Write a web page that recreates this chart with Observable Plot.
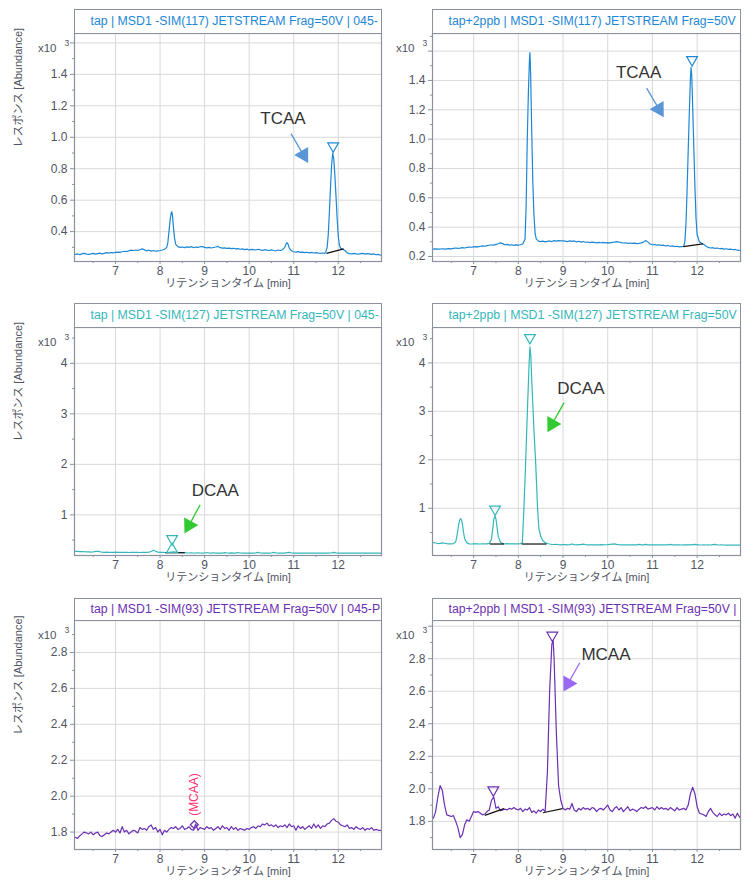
<!DOCTYPE html>
<html><head><meta charset="utf-8">
<script src="https://cdn.jsdelivr.net/npm/d3@7"></script>
<script src="https://cdn.jsdelivr.net/npm/@observablehq/plot@0.6"></script>
<style>
body{margin:0;background:#fff;width:747px;height:882px;position:relative;overflow:hidden;font-family:"Liberation Sans",Arial,"Noto Sans CJK JP",sans-serif;}
.title{position:absolute;box-sizing:border-box;border:1px solid #8c91a0;border-bottom:none;font-size:12.3px;white-space:nowrap;overflow:hidden;padding-left:16px;background:#fff;}
</style></head><body>
<div id="root"></div>
<script>
// ---------- data ----------
const xDomain = [6.08, 12.97];
const xTicks = [7, 8, 9, 10, 11, 12];
const xMinor = [6.5, 7.5, 8.5, 9.5, 10.5, 11.5, 12.5];
const xLabel = "リテンションタイム [min]";
const yLabel = "レスポンス [Abundance]";
const titles = [
  "tap | MSD1 -SIM(117) JETSTREAM Frag=50V | 045-",
  "tap+2ppb | MSD1 -SIM(117) JETSTREAM Frag=50V",
  "tap | MSD1 -SIM(127) JETSTREAM Frag=50V | 045-",
  "tap+2ppb | MSD1 -SIM(127) JETSTREAM Frag=50V",
  "tap | MSD1 -SIM(93) JETSTREAM Frag=50V | 045-P",
  "tap+2ppb | MSD1 -SIM(93) JETSTREAM Frag=50V |"
];

const tap117 = [[6.10,0.255],[6.15,0.258],[6.20,0.253],[6.25,0.26],[6.30,0.262],[6.35,0.257],[6.40,0.255],[6.45,0.258],[6.50,0.262],[6.55,0.257],[6.60,0.26],[6.65,0.263],[6.70,0.258],[6.75,0.262],[6.80,0.266],[6.85,0.263],[6.90,0.267],[6.95,0.265],[7.00,0.268],[7.05,0.27],[7.10,0.268],[7.15,0.272],[7.20,0.275],[7.25,0.273],[7.30,0.278],[7.35,0.282],[7.40,0.28],[7.45,0.283],[7.50,0.281],[7.55,0.285],[7.60,0.29],[7.65,0.284],[7.70,0.278],[7.75,0.282],[7.80,0.276],[7.85,0.28],[7.90,0.275],[7.95,0.278],[8.00,0.28],[8.05,0.283],[8.10,0.288],[8.15,0.30],[8.175,0.33],[8.20,0.40],[8.225,0.47],[8.25,0.52],[8.265,0.525],[8.28,0.50],[8.30,0.43],[8.325,0.36],[8.35,0.32],[8.40,0.305],[8.45,0.30],[8.50,0.302],[8.55,0.298],[8.60,0.303],[8.65,0.30],[8.70,0.305],[8.75,0.298],[8.80,0.302],[8.85,0.30],[8.90,0.304],[8.95,0.305],[9.00,0.30],[9.05,0.297],[9.10,0.30],[9.15,0.296],[9.20,0.299],[9.25,0.302],[9.30,0.306],[9.35,0.298],[9.40,0.295],[9.45,0.297],[9.50,0.293],[9.55,0.295],[9.60,0.292],[9.65,0.294],[9.70,0.29],[9.75,0.292],[9.80,0.288],[9.85,0.29],[9.90,0.286],[9.95,0.289],[10.00,0.283],[10.05,0.287],[10.10,0.285],[10.15,0.283],[10.20,0.288],[10.25,0.284],[10.30,0.281],[10.35,0.285],[10.40,0.282],[10.45,0.28],[10.50,0.284],[10.55,0.28],[10.60,0.278],[10.65,0.283],[10.70,0.28],[10.75,0.285],[10.80,0.30],[10.825,0.32],[10.85,0.33],[10.875,0.318],[10.90,0.295],[10.95,0.278],[11.00,0.272],[11.05,0.27],[11.10,0.273],[11.15,0.268],[11.20,0.27],[11.25,0.266],[11.30,0.269],[11.35,0.265],[11.40,0.268],[11.45,0.264],[11.50,0.266],[11.55,0.263],[11.60,0.262],[11.65,0.264],[11.70,0.262],[11.725,0.275],[11.75,0.30],[11.775,0.38],[11.80,0.52],[11.825,0.68],[11.85,0.82],[11.875,0.90],[11.90,0.86],[11.925,0.75],[11.95,0.62],[11.975,0.48],[12.00,0.37],[12.025,0.315],[12.05,0.295],[12.10,0.288],[12.15,0.28],[12.20,0.265],[12.25,0.26],[12.30,0.258],[12.35,0.262],[12.40,0.259],[12.45,0.256],[12.50,0.26],[12.55,0.262],[12.60,0.257],[12.65,0.26],[12.70,0.258],[12.75,0.255],[12.80,0.258],[12.85,0.253],[12.90,0.255],[12.95,0.25]];

const ppb117 = [[6.10,0.25],[6.15,0.252],[6.20,0.25],[6.25,0.251],[6.30,0.253],[6.35,0.25],[6.40,0.252],[6.45,0.254],[6.50,0.252],[6.55,0.255],[6.60,0.258],[6.65,0.255],[6.70,0.257],[6.75,0.26],[6.80,0.258],[6.85,0.262],[6.90,0.265],[6.95,0.263],[7.00,0.266],[7.05,0.268],[7.10,0.266],[7.15,0.27],[7.20,0.272],[7.25,0.27],[7.30,0.274],[7.35,0.277],[7.40,0.28],[7.45,0.278],[7.50,0.283],[7.55,0.287],[7.60,0.293],[7.65,0.288],[7.70,0.28],[7.75,0.283],[7.80,0.278],[7.85,0.28],[7.90,0.276],[7.95,0.279],[8.00,0.277],[8.05,0.28],[8.10,0.285],[8.15,0.32],[8.175,0.55],[8.20,1.00],[8.225,1.32],[8.25,1.55],[8.26,1.59],[8.275,1.45],[8.30,1.05],[8.325,0.70],[8.35,0.48],[8.375,0.36],[8.40,0.32],[8.45,0.305],[8.50,0.302],[8.55,0.305],[8.60,0.30],[8.65,0.303],[8.70,0.306],[8.75,0.302],[8.80,0.308],[8.85,0.305],[8.90,0.308],[8.95,0.306],[9.00,0.307],[9.05,0.305],[9.10,0.302],[9.15,0.307],[9.20,0.303],[9.25,0.306],[9.30,0.30],[9.35,0.304],[9.40,0.298],[9.45,0.302],[9.50,0.297],[9.55,0.299],[9.60,0.295],[9.65,0.298],[9.70,0.296],[9.75,0.293],[9.80,0.296],[9.85,0.294],[9.90,0.296],[9.95,0.293],[10.00,0.295],[10.05,0.293],[10.10,0.296],[10.15,0.298],[10.20,0.302],[10.25,0.299],[10.30,0.295],[10.35,0.292],[10.40,0.294],[10.45,0.29],[10.50,0.292],[10.55,0.289],[10.60,0.291],[10.65,0.288],[10.70,0.29],[10.75,0.293],[10.80,0.298],[10.85,0.31],[10.90,0.298],[10.95,0.285],[11.00,0.28],[11.05,0.282],[11.10,0.278],[11.15,0.28],[11.20,0.276],[11.25,0.277],[11.30,0.273],[11.35,0.275],[11.40,0.27],[11.45,0.272],[11.50,0.268],[11.55,0.27],[11.60,0.266],[11.65,0.268],[11.70,0.27],[11.725,0.30],[11.75,0.42],[11.775,0.65],[11.80,0.92],[11.825,1.18],[11.85,1.42],[11.865,1.49],[11.88,1.43],[11.90,1.22],[11.925,0.95],[11.95,0.68],[11.975,0.46],[12.00,0.35],[12.05,0.30],[12.10,0.29],[12.15,0.283],[12.20,0.27],[12.25,0.262],[12.30,0.258],[12.35,0.26],[12.40,0.256],[12.45,0.258],[12.50,0.253],[12.55,0.255],[12.60,0.25],[12.65,0.253],[12.70,0.249],[12.75,0.25],[12.80,0.246],[12.85,0.248],[12.90,0.243],[12.95,0.242]];

const tap127 = [[6.10,0.275],[6.15,0.278],[6.20,0.272],[6.25,0.274],[6.30,0.27],[6.35,0.268],[6.40,0.265],[6.45,0.262],[6.50,0.266],[6.55,0.275],[6.60,0.278],[6.65,0.27],[6.70,0.26],[6.75,0.258],[6.80,0.26],[6.85,0.257],[6.90,0.255],[6.95,0.258],[7.00,0.262],[7.05,0.256],[7.10,0.255],[7.15,0.258],[7.20,0.255],[7.25,0.257],[7.30,0.254],[7.35,0.256],[7.40,0.255],[7.45,0.258],[7.50,0.256],[7.55,0.254],[7.60,0.257],[7.65,0.255],[7.70,0.258],[7.75,0.262],[7.80,0.275],[7.85,0.30],[7.90,0.28],[7.95,0.262],[8.00,0.256],[8.05,0.258],[8.10,0.255],[8.15,0.253],[8.20,0.258],[8.25,0.262],[8.30,0.265],[8.35,0.26],[8.40,0.255],[8.45,0.253],[8.50,0.252],[8.55,0.255],[8.60,0.248],[8.65,0.245],[8.70,0.25],[8.75,0.245],[8.80,0.244],[8.85,0.248],[8.90,0.245],[8.95,0.243],[9.00,0.245],[9.05,0.255],[9.10,0.245],[9.15,0.243],[9.20,0.25],[9.25,0.244],[9.30,0.243],[9.35,0.245],[9.40,0.244],[9.45,0.252],[9.50,0.245],[9.55,0.243],[9.60,0.246],[9.65,0.244],[9.70,0.243],[9.75,0.255],[9.80,0.245],[9.85,0.243],[9.90,0.245],[9.95,0.244],[10.00,0.243],[10.05,0.245],[10.10,0.244],[10.15,0.246],[10.20,0.258],[10.25,0.245],[10.30,0.243],[10.35,0.245],[10.40,0.244],[10.45,0.243],[10.50,0.245],[10.55,0.256],[10.60,0.245],[10.65,0.243],[10.70,0.244],[10.75,0.245],[10.80,0.243],[10.85,0.252],[10.90,0.256],[10.95,0.245],[11.00,0.243],[11.05,0.244],[11.10,0.243],[11.15,0.245],[11.20,0.244],[11.25,0.243],[11.30,0.245],[11.35,0.244],[11.40,0.243],[11.45,0.245],[11.50,0.244],[11.55,0.243],[11.60,0.245],[11.65,0.244],[11.70,0.243],[11.75,0.245],[11.80,0.244],[11.85,0.248],[11.90,0.256],[11.95,0.246],[12.00,0.244],[12.05,0.243],[12.10,0.245],[12.15,0.244],[12.20,0.243],[12.25,0.245],[12.30,0.244],[12.35,0.243],[12.40,0.245],[12.45,0.244],[12.50,0.243],[12.55,0.244],[12.60,0.243],[12.65,0.242],[12.70,0.243],[12.75,0.242],[12.80,0.243],[12.85,0.242],[12.90,0.242],[12.95,0.241]];

const ppb127 = [[6.10,0.29],[6.15,0.283],[6.20,0.272],[6.25,0.276],[6.30,0.285],[6.35,0.278],[6.40,0.27],[6.45,0.266],[6.50,0.265],[6.55,0.27],[6.60,0.31],[6.625,0.42],[6.65,0.57],[6.675,0.71],[6.70,0.785],[6.725,0.77],[6.75,0.67],[6.775,0.50],[6.80,0.37],[6.85,0.285],[6.90,0.265],[6.95,0.262],[7.00,0.266],[7.05,0.268],[7.10,0.264],[7.15,0.262],[7.20,0.266],[7.25,0.263],[7.30,0.265],[7.35,0.275],[7.40,0.36],[7.425,0.56],[7.45,0.76],[7.475,0.84],[7.50,0.78],[7.525,0.60],[7.55,0.42],[7.60,0.30],[7.65,0.272],[7.70,0.266],[7.75,0.27],[7.80,0.265],[7.85,0.268],[7.90,0.264],[7.95,0.267],[8.00,0.264],[8.05,0.27],[8.09,0.29],[8.12,0.90],[8.15,1.60],[8.18,2.40],[8.21,3.20],[8.24,3.95],[8.26,4.33],[8.28,4.15],[8.30,3.65],[8.35,2.60],[8.39,1.90],[8.43,1.00],[8.46,0.58],[8.50,0.42],[8.55,0.33],[8.60,0.29],[8.65,0.272],[8.70,0.262],[8.75,0.256],[8.80,0.252],[8.85,0.254],[8.90,0.249],[8.95,0.246],[9.00,0.25],[9.05,0.248],[9.10,0.245],[9.15,0.25],[9.20,0.262],[9.25,0.248],[9.30,0.245],[9.35,0.248],[9.40,0.25],[9.45,0.26],[9.50,0.248],[9.55,0.245],[9.60,0.247],[9.65,0.244],[9.70,0.246],[9.75,0.243],[9.80,0.245],[9.85,0.248],[9.90,0.245],[9.95,0.247],[10.00,0.25],[10.05,0.255],[10.10,0.26],[10.15,0.265],[10.20,0.255],[10.25,0.248],[10.30,0.245],[10.35,0.247],[10.40,0.244],[10.45,0.246],[10.50,0.244],[10.55,0.243],[10.60,0.245],[10.65,0.244],[10.70,0.255],[10.75,0.245],[10.80,0.243],[10.85,0.255],[10.90,0.244],[10.95,0.243],[11.00,0.245],[11.05,0.244],[11.10,0.243],[11.15,0.244],[11.20,0.243],[11.25,0.244],[11.30,0.245],[11.35,0.243],[11.40,0.254],[11.45,0.244],[11.50,0.243],[11.55,0.244],[11.60,0.243],[11.65,0.242],[11.70,0.243],[11.75,0.244],[11.80,0.243],[11.85,0.244],[11.90,0.25],[11.95,0.256],[12.00,0.246],[12.05,0.243],[12.10,0.242],[12.15,0.243],[12.20,0.242],[12.25,0.243],[12.30,0.242],[12.35,0.248],[12.40,0.255],[12.45,0.244],[12.50,0.242],[12.55,0.243],[12.60,0.242],[12.65,0.241],[12.70,0.242],[12.75,0.241],[12.80,0.242],[12.85,0.241],[12.90,0.241],[12.95,0.24]];

const tap93 = [[6.10,1.77],[6.15,1.765],[6.20,1.78],[6.25,1.79],[6.30,1.80],[6.35,1.795],[6.40,1.79],[6.45,1.80],[6.50,1.785],[6.55,1.795],[6.60,1.80],[6.65,1.78],[6.70,1.775],[6.75,1.785],[6.80,1.795],[6.85,1.79],[6.90,1.80],[6.95,1.81],[7.00,1.80],[7.05,1.815],[7.10,1.795],[7.15,1.83],[7.20,1.80],[7.25,1.81],[7.30,1.79],[7.35,1.80],[7.40,1.81],[7.45,1.805],[7.50,1.795],[7.55,1.825],[7.60,1.815],[7.65,1.82],[7.70,1.81],[7.75,1.83],[7.80,1.84],[7.85,1.815],[7.90,1.825],[7.95,1.80],[8.00,1.815],[8.05,1.785],[8.10,1.81],[8.15,1.80],[8.20,1.815],[8.25,1.825],[8.30,1.82],[8.35,1.83],[8.40,1.815],[8.45,1.82],[8.50,1.835],[8.55,1.815],[8.60,1.82],[8.65,1.83],[8.70,1.815],[8.75,1.81],[8.80,1.845],[8.85,1.81],[8.90,1.825],[8.95,1.82],[9.00,1.815],[9.05,1.83],[9.10,1.82],[9.15,1.825],[9.20,1.81],[9.25,1.82],[9.30,1.83],[9.35,1.815],[9.40,1.835],[9.45,1.82],[9.50,1.825],[9.55,1.81],[9.60,1.83],[9.65,1.815],[9.70,1.825],[9.75,1.81],[9.80,1.82],[9.85,1.815],[9.90,1.81],[9.95,1.82],[10.00,1.815],[10.05,1.825],[10.10,1.83],[10.15,1.82],[10.20,1.835],[10.25,1.83],[10.30,1.845],[10.35,1.84],[10.40,1.85],[10.45,1.835],[10.50,1.84],[10.55,1.83],[10.60,1.84],[10.65,1.825],[10.70,1.835],[10.75,1.83],[10.80,1.84],[10.85,1.825],[10.90,1.845],[10.95,1.83],[11.00,1.835],[11.05,1.81],[11.10,1.835],[11.15,1.82],[11.20,1.83],[11.25,1.815],[11.30,1.825],[11.35,1.835],[11.40,1.82],[11.45,1.845],[11.50,1.825],[11.55,1.84],[11.60,1.82],[11.65,1.835],[11.70,1.83],[11.75,1.845],[11.80,1.85],[11.85,1.865],[11.90,1.875],[11.95,1.86],[12.00,1.855],[12.05,1.84],[12.10,1.835],[12.15,1.83],[12.20,1.84],[12.25,1.82],[12.30,1.825],[12.35,1.815],[12.40,1.83],[12.45,1.82],[12.50,1.815],[12.55,1.825],[12.60,1.81],[12.65,1.82],[12.70,1.815],[12.75,1.825],[12.80,1.81],[12.85,1.815],[12.90,1.81],[12.95,1.81]];

const ppb93 = [[6.10,1.82],[6.15,1.86],[6.20,1.95],[6.25,2.02],[6.30,1.99],[6.35,1.90],[6.40,1.84],[6.45,1.835],[6.50,1.83],[6.55,1.835],[6.60,1.80],[6.65,1.76],[6.70,1.70],[6.75,1.72],[6.80,1.78],[6.85,1.81],[6.90,1.80],[6.95,1.83],[7.00,1.86],[7.05,1.855],[7.10,1.86],[7.15,1.85],[7.20,1.84],[7.25,1.845],[7.30,1.86],[7.35,1.87],[7.40,1.93],[7.45,1.95],[7.50,1.88],[7.55,1.89],[7.60,1.865],[7.65,1.87],[7.70,1.875],[7.75,1.87],[7.80,1.88],[7.85,1.875],[7.90,1.885],[7.95,1.875],[8.00,1.87],[8.05,1.88],[8.10,1.86],[8.15,1.875],[8.20,1.87],[8.25,1.885],[8.30,1.855],[8.35,1.865],[8.40,1.85],[8.45,1.87],[8.50,1.86],[8.55,1.875],[8.60,1.86],[8.65,2.10],[8.70,2.60],[8.75,2.89],[8.78,2.91],[8.80,2.80],[8.85,2.35],[8.90,2.02],[8.95,1.93],[9.00,1.88],[9.05,1.87],[9.10,1.88],[9.15,1.875],[9.20,1.91],[9.25,1.87],[9.30,1.86],[9.35,1.88],[9.40,1.87],[9.45,1.885],[9.50,1.875],[9.55,1.88],[9.60,1.87],[9.65,1.885],[9.70,1.88],[9.75,1.86],[9.80,1.875],[9.85,1.88],[9.90,1.87],[9.95,1.885],[10.00,1.90],[10.05,1.87],[10.10,1.86],[10.15,1.88],[10.20,1.89],[10.25,1.87],[10.30,1.885],[10.35,1.86],[10.40,1.875],[10.45,1.89],[10.50,1.865],[10.55,1.875],[10.60,1.87],[10.65,1.86],[10.70,1.875],[10.75,1.885],[10.80,1.88],[10.85,1.89],[10.90,1.875],[10.95,1.88],[11.00,1.885],[11.05,1.87],[11.10,1.89],[11.15,1.875],[11.20,1.885],[11.25,1.875],[11.30,1.88],[11.35,1.87],[11.40,1.885],[11.45,1.875],[11.50,1.865],[11.55,1.885],[11.60,1.87],[11.65,1.875],[11.70,1.88],[11.75,1.87],[11.80,1.90],[11.85,1.97],[11.90,2.01],[11.95,1.97],[12.00,1.89],[12.05,1.85],[12.10,1.845],[12.15,1.84],[12.20,1.83],[12.25,1.86],[12.30,1.88],[12.35,1.855],[12.40,1.84],[12.45,1.83],[12.50,1.85],[12.55,1.835],[12.60,1.845],[12.65,1.84],[12.70,1.85],[12.75,1.835],[12.80,1.845],[12.85,1.82],[12.90,1.85],[12.95,1.825]];

// peak markers (retention time, abundance); up = upward triangle
const peaks1 = [{x:11.885, y:0.944}];
const peaks2 = [{x:11.887, y:1.541}];
const peaks3 = [{x:8.27, y:0.527}, {x:8.27, y:0.316, up:true}];
const peaks4 = [{x:7.48, y:0.98}, {x:8.26, y:4.52}];
const peaks6 = [{x:7.44, y:1.993}, {x:8.76, y:2.944}];
const diamond5 = [{x:8.77, y:1.841}];

// integration baselines
const base1 = [{x1:11.735, y1:0.262, x2:12.12, y2:0.29}];
const base2 = [{x1:11.69, y1:0.268, x2:12.13, y2:0.286}];
const base3 = [{x1:8.12, y1:0.25, x2:8.555, y2:0.25}];
const base4 = [{x1:7.36, y1:0.262, x2:7.68, y2:0.262}, {x1:8.075, y1:0.262, x2:8.63, y2:0.262}];
const base6 = [{x1:7.25, y1:1.837, x2:7.68, y2:1.878}, {x1:8.55, y1:1.853, x2:8.99, y2:1.878}];

// compound labels and arrows (tail -> tip)
const label1 = [{x:10.76, y:1.12, text:"TCAA"}];
const arrow1 = [{x1:10.94, y1:1.023, x2:11.325, y2:0.836}];
const label2 = [{x:10.69, y:1.455, text:"TCAA"}];
const arrow2 = [{x1:10.87, y1:1.3475, x2:11.253, y2:1.15}];
const label3 = [{x:9.24, y:1.48, text:"DCAA"}];
const arrow3 = [{x1:8.90, y1:1.198, x2:8.549, y2:0.63}];
const label4 = [{x:9.40, y:3.48, text:"DCAA"}];
const arrow4 = [{x1:9.024, y1:3.18, x2:8.652, y2:2.568}];
const label6 = [{x:9.96, y:2.828, text:"MCAA"}];
const arrow6 = [{x1:9.375, y1:2.775, x2:9.01, y2:2.598}];
const label5 = [{x:8.77, y:2.009, text:"(MCAA)"}];

// ---------- style ----------
const blue = "#1c87d5", teal = "#35b7ba", purple = "#6b2fb2";
const arrowBlue = "#5a96d6", arrowGreen = "#33c933", arrowPurple = "#9a68f2";
const frameColor = "#8c91a0", gridColor = "#d9d9d9", textColor = "#4f5462";
const f1 = d => d.toFixed(1), f0 = d => d.toFixed(0);

const panels = [
  {left:0, top:0, width:382, ml:74, mr:1, mt:33, mb:34, tt:9, data:tap117, color:blue, title:titles[0], yDomain:[0.21,1.66],
   yMajor:[0.4,0.6,0.8,1.0,1.2,1.4,1.6], yHide:[1.6], yMinor:[0.3,0.5,0.7,0.9,1.1,1.3,1.5], fmt:f1, yl:true,
   peaks:peaks1, base:base1, labels:label1, arrows:arrow1, ac:arrowBlue},
  {left:382, top:0, width:365, ml:50, mr:7, mt:33, mb:34, tt:9, data:ppb117, color:blue, title:titles[1], yDomain:[0.166,1.72],
   yMajor:[0.2,0.4,0.6,0.8,1.0,1.2,1.4,1.6], yHide:[1.6], yMinor:[0.3,0.5,0.7,0.9,1.1,1.3,1.5,1.7], fmt:f1, yl:false,
   peaks:peaks2, base:base2, labels:label2, arrows:arrow2, ac:arrowBlue},
  {left:0, top:294, width:382, ml:74, mr:1, mt:33, mb:34, tt:9, data:tap127, color:teal, title:titles[2], yDomain:[0.195,4.71],
   yMajor:[1,2,3,4], yHide:[], yMinor:[0.5,1.5,2.5,3.5,4.5], fmt:f0, yl:true,
   peaks:peaks3, base:base3, labels:label3, arrows:arrow3, ac:arrowGreen},
  {left:382, top:294, width:365, ml:50, mr:7, mt:33, mb:34, tt:9, data:ppb127, color:teal, title:titles[3], yDomain:[0.025,4.73],
   yMajor:[1,2,3,4], yHide:[], yMinor:[0.5,1.5,2.5,3.5,4.5], fmt:f0, yl:false,
   peaks:peaks4, base:base4, labels:label4, arrows:arrow4, ac:arrowGreen},
  {left:0, top:587, width:382, ml:74, mr:1, mt:33, mb:33, tt:11, data:tap93, color:purple, title:titles[4], yDomain:[1.703,2.978],
   yMajor:[1.8,2.0,2.2,2.4,2.6,2.8], yHide:[], yMinor:[1.9,2.1,2.3,2.5,2.7,2.9], fmt:f1, yl:true,
   peaks:[], base:[], labels:[], arrows:[], ac:arrowPurple, diamond:diamond5, pink:label5},
  {left:382, top:587, width:365, ml:50, mr:7, mt:33, mb:33, tt:11, data:ppb93, color:purple, title:titles[5], yDomain:[1.627,3.035],
   yMajor:[1.8,2.0,2.2,2.4,2.6,2.8,3.0], yHide:[3.0], yMinor:[1.7,1.9,2.1,2.3,2.5,2.7,2.9], fmt:f1, yl:false,
   peaks:peaks6, base:base6, labels:label6, arrows:arrow6, ac:arrowPurple}
];

const headR = 6;
const root = document.getElementById("root");

for (const p of panels) {
  const height = 295;
  const fw = p.width - p.ml - p.mr, fh = height - p.mt - p.mb;
  const kx = fw / (xDomain[1] - xDomain[0]);
  const ky = fh / (p.yDomain[1] - p.yDomain[0]);
  const heads = [], shafts = [];
  const yd = Math.sqrt(Math.PI * headR * headR / (3 * Math.sqrt(3)));
  for (const a of p.arrows) {
    const dx = (a.x2 - a.x1) * kx, dy = -(a.y2 - a.y1) * ky;
    const L = Math.hypot(dx, dy), ux = dx / L, uy = dy / L;
    const rot = Math.atan2(ux, -uy) * 180 / Math.PI;
    heads.push({x: a.x2 - ux * 2 * yd / kx, y: a.y2 + uy * 2 * yd / ky, rot});
    const back = 3 * yd - 1;
    shafts.push({x1: a.x1, y1: a.y1, x2: a.x2 - ux * back / kx, y2: a.y2 + uy * back / ky});
  }
  const marks = [
    Plot.gridX(xTicks, {stroke: gridColor, strokeOpacity: 1}),
    Plot.gridY(p.yMajor, {stroke: gridColor, strokeOpacity: 1}),
    Plot.line(p.data, {x: d => d[0], y: d => d[1], stroke: p.color, strokeWidth: 1.2, clip: true}),
    Plot.link(p.base, {x1: "x1", y1: "y1", x2: "x2", y2: "y2", stroke: "#111", strokeWidth: 1.2}),
    Plot.dot(p.peaks, {x: "x", y: "y", symbol: "triangle", rotate: d => d.up ? 0 : 180, r: 4, stroke: p.color, fill: "none", strokeWidth: 1.2}),
    Plot.link(shafts, {x1: "x1", y1: "y1", x2: "x2", y2: "y2", stroke: p.ac, strokeWidth: 1.3}),
    Plot.dot(heads, {x: "x", y: "y", symbol: "triangle", rotate: "rot", r: headR, fill: p.ac, stroke: "none"}),
    Plot.text(p.labels, {x: "x", y: "y", text: "text", fontSize: 17, fill: "#333", fontFamily: "Liberation Sans, Arial, sans-serif"}),
    Plot.frame({stroke: frameColor, strokeWidth: 1.2}),
    Plot.axisX(xTicks, {tickSize: 3, tickPadding: 2, stroke: frameColor, fill: textColor, fontSize: 12, label: null, tickFormat: f0}),
    Plot.axisX(xMinor, {tickSize: 2, stroke: frameColor, tickFormat: () => "", label: null}),
    Plot.axisY(p.yMajor, {tickSize: 4, tickPadding: 3, stroke: frameColor, fill: textColor, fontSize: 12, label: null,
      tickFormat: d => p.yHide.includes(d) ? "" : p.fmt(d)}),
    Plot.axisY(p.yMinor, {tickSize: 2, stroke: frameColor, tickFormat: () => "", label: null}),
    Plot.text([xLabel], {text: d => d, frameAnchor: "bottom", dy: 25.5, fontSize: 11, fill: textColor,
      fontFamily: "Liberation Sans, Noto Sans CJK JP, sans-serif"}),
    Plot.text(["x10"], {text: d => d, frameAnchor: "top-left", textAnchor: "end", dx: -18, dy: 10, fontSize: 11.5, fill: textColor}),
    Plot.text(["3"], {text: d => d, frameAnchor: "top-left", dx: -10, dy: 6.5, fontSize: 8.5, fill: textColor})
  ];
  if (p.yl) marks.push(Plot.text([yLabel], {text: d => d, frameAnchor: "left", dx: -56, rotate: -90, fontSize: 11, fill: textColor,
      fontFamily: "Liberation Sans, Noto Sans CJK JP, sans-serif"}));
  if (p.diamond) marks.push(Plot.dot(p.diamond, {x: "x", y: "y", symbol: "diamond2", r: 3.6, stroke: p.color, fill: "none", strokeWidth: 1.2}));
  if (p.pink) marks.push(Plot.text(p.pink, {x: "x", y: "y", text: "text", rotate: -90, fontSize: 12, fill: "#ff2f73"}));

  const svg = Plot.plot({
    width: p.width, height,
    marginLeft: p.ml, marginRight: p.mr, marginTop: p.mt, marginBottom: p.mb,
    x: {domain: xDomain},
    y: {domain: p.yDomain},
    style: {fontFamily: "Liberation Sans, Arial, Noto Sans CJK JP, sans-serif", fontSize: "12px", background: "transparent", overflow: "visible"},
    marks
  });
  const wrap = document.createElement("div");
  wrap.style.cssText = `position:absolute;left:${p.left}px;top:${p.top}px;width:${p.width}px;height:${height}px;`;
  wrap.appendChild(svg);
  const t = document.createElement("div");
  t.className = "title";
  t.textContent = p.title;
  t.style.color = p.color;
  t.style.left = (p.ml - 0.5) + "px";
  t.style.top = p.tt + "px";
  t.style.width = (fw + 1) + "px";
  t.style.height = (p.mt - p.tt) + "px";
  t.style.lineHeight = (p.mt - p.tt - 1) + "px";
  wrap.appendChild(t);
  root.appendChild(wrap);
}
</script></body></html>
